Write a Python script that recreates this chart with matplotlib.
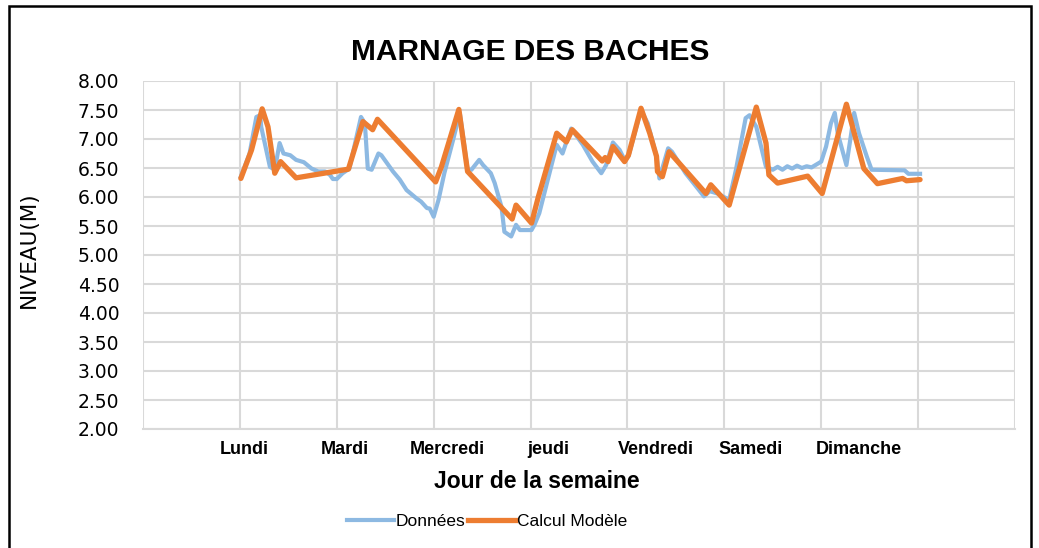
import numpy as np
import matplotlib
matplotlib.use("Agg")
import matplotlib.pyplot as plt
from matplotlib.patches import Rectangle
from matplotlib.lines import Line2D

# Jour (0 = Lundi) et niveau (m)
data_x = [0.01, 0.10, 0.17, 0.21, 0.22, 0.31, 0.36, 0.41, 0.45, 0.52, 0.58, 0.66, 0.74,
          0.81, 0.88, 0.93, 0.96, 1.00, 1.06, 1.13, 1.25, 1.29, 1.32, 1.36, 1.43, 1.46,
          1.58, 1.65, 1.72, 1.82, 1.87, 1.93, 1.96, 2.00, 2.05, 2.11, 2.20, 2.27, 2.35,
          2.39, 2.47, 2.51, 2.59, 2.63, 2.70, 2.73, 2.80, 2.85, 2.89, 3.01, 3.04, 3.09,
          3.16, 3.27, 3.33, 3.36, 3.42, 3.54, 3.64, 3.73, 3.78, 3.85, 3.92, 3.97, 4.01,
          4.14, 4.21, 4.30, 4.33, 4.42, 4.46, 4.60, 4.71, 4.79, 4.85, 4.93, 5.05, 5.12,
          5.22, 5.26, 5.33, 5.43, 5.50, 5.55, 5.60, 5.65, 5.70, 5.75, 5.80, 5.85, 5.90,
          5.95, 6.00, 6.05, 6.10, 6.14, 6.17, 6.26, 6.31, 6.34, 6.39, 6.47, 6.52, 6.86,
          6.90, 7.02]
data_y = [6.35, 6.75, 7.38, 7.41, 7.21, 6.52, 6.47, 6.93, 6.75, 6.72, 6.64, 6.60, 6.49,
          6.44, 6.44, 6.38, 6.31, 6.31, 6.41, 6.49, 7.38, 7.27, 6.49, 6.47, 6.75, 6.72,
          6.44, 6.30, 6.12, 5.98, 5.92, 5.81, 5.80, 5.66, 5.95, 6.41, 6.98, 7.45, 6.47,
          6.47, 6.64, 6.55, 6.41, 6.24, 5.83, 5.40, 5.32, 5.52, 5.43, 5.43, 5.52, 5.72,
          6.18, 6.90, 6.75, 6.90, 7.18, 6.90, 6.61, 6.41, 6.55, 6.94, 6.81, 6.64, 6.70,
          7.50, 7.27, 6.70, 6.32, 6.84, 6.78, 6.41, 6.18, 6.01, 6.10, 6.06, 5.95, 6.47,
          7.36, 7.41, 7.21, 6.52, 6.47, 6.52, 6.47, 6.53, 6.49, 6.54, 6.50, 6.53, 6.51,
          6.56, 6.61, 6.87, 7.27, 7.45, 7.10, 6.55, 7.10, 7.45, 7.10, 6.70, 6.47, 6.46,
          6.40, 6.40]

model_x = [0.01, 0.12, 0.23, 0.29, 0.36, 0.42, 0.58, 1.12, 1.27, 1.37, 1.42, 2.02, 2.08,
           2.26, 2.35, 2.81, 2.85, 3.01, 3.08, 3.27, 3.37, 3.43, 3.74, 3.77, 3.80, 3.85,
           3.97, 4.01, 4.14, 4.23, 4.30, 4.31, 4.36, 4.43, 4.81, 4.86, 5.05, 5.33, 5.43,
           5.46, 5.55, 5.86, 6.01, 6.26, 6.44, 6.58, 6.84, 6.88, 7.02]
model_y = [6.32, 6.81, 7.52, 7.21, 6.41, 6.61, 6.33, 6.48, 7.30, 7.16, 7.34, 6.26, 6.52,
           7.51, 6.44, 5.62, 5.86, 5.55, 6.00, 7.10, 6.95, 7.16, 6.62, 6.68, 6.61, 6.87,
           6.61, 6.72, 7.53, 7.10, 6.70, 6.44, 6.35, 6.78, 6.06, 6.21, 5.86, 7.55, 6.93,
           6.38, 6.24, 6.36, 6.06, 7.60, 6.49, 6.23, 6.32, 6.28, 6.30]

day_labels = ["Lundi", "Mardi", "Mercredi", "jeudi", "Vendredi", "Samedi", "Dimanche"]
day_label_pos = [0.04, 1.08, 2.14, 3.18, 4.29, 5.27, 6.39]

blue = "#8db9e2"
orange = "#ed7d31"
grid = "#d9d9d9"

fig = plt.figure(figsize=(10.39, 5.48), dpi=100)
ax = fig.add_axes([143 / 1039, 1 - 429 / 548, 872 / 1039, 348 / 548])

ax.plot(data_x, data_y, color=blue, lw=3.0, solid_joinstyle="round", zorder=3)
ax.plot(model_x, model_y, color=orange, lw=3.8, solid_joinstyle="round",
        solid_capstyle="round", zorder=4)

ax.set_xlim(-1, 8)
ax.set_ylim(2, 8)
ax.set_yticks(np.arange(2, 8.01, 0.5))
ax.set_yticklabels([f"{v:.2f}" for v in np.arange(2, 8.01, 0.5)],
                   family="DejaVu Sans", fontsize=13.5)
ax.set_xticks(day_label_pos)
ax.set_xticklabels(day_labels, fontweight="bold", fontsize=13, family="Liberation Sans")
ax.set_xticks(np.arange(-1, 9), minor=True)
ax.tick_params(axis="y", length=0, pad=17, colors="black")
ax.tick_params(axis="x", which="both", length=0, pad=9)

ax.grid(True, axis="y", which="major", color=grid, lw=1.5)
ax.grid(True, axis="x", which="minor", color=grid, lw=1.5)
ax.grid(False, axis="x", which="major")
for s in ["top", "right", "left"]:
    ax.spines[s].set_visible(False)
ax.spines["bottom"].set_color(grid)
ax.spines["bottom"].set_linewidth(1.5)
ax.set_axisbelow(True)

fig.text(530 / 1039, 1 - 52 / 548, "MARNAGE DES BACHES", ha="center", va="center",
         fontsize=21.5, fontweight="bold", family="Liberation Sans")
fig.text(537 / 1039, 1 - 482 / 548, "Jour de la semaine", ha="center", va="center",
         fontsize=16.5, fontweight="bold", family="Liberation Sans")
fig.text(29 / 1039, 1 - 250 / 548, "NIVEAU(M)", ha="center", va="center",
         rotation=90, fontsize=15.5, family="DejaVu Sans")

handles = [Line2D([], [], color=blue, lw=3.0), Line2D([], [], color=orange, lw=3.8)]
fig.legend(handles, ["Données", "Calcul Modèle"], loc="center",
           bbox_to_anchor=(487 / 1039, 1 - 521 / 548), ncol=2, frameon=False,
           handlelength=2.7, handletextpad=0.1, columnspacing=0.2,
           prop={"family": "Liberation Sans", "size": 12.5})

fig.add_artist(Rectangle((9 / 1039, -0.05), 1022 / 1039, 1.05 - 6 / 548,
                         transform=fig.transFigure, fill=False, ec="black", lw=1.8))

fig.savefig("out.png", dpi=100)
